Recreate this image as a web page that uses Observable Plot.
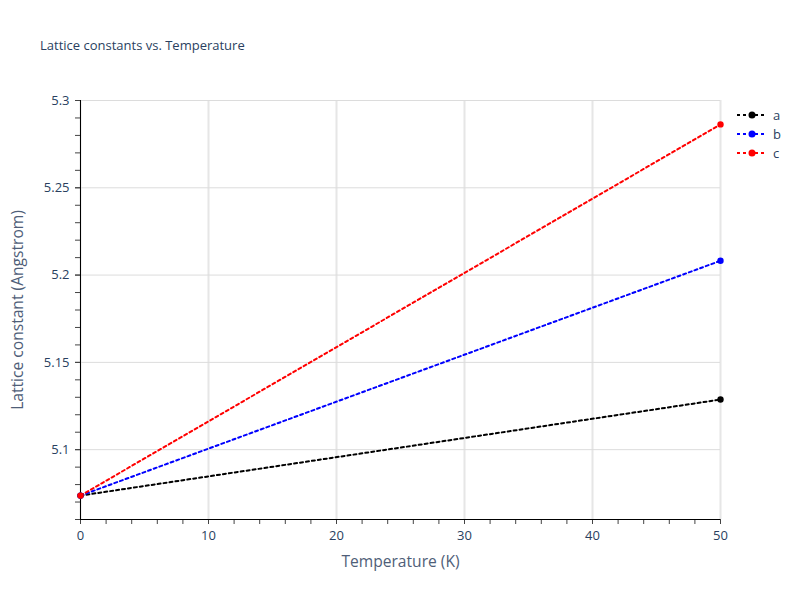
<!DOCTYPE html>
<html>
<head>
<meta charset="utf-8">
<script src="https://cdn.jsdelivr.net/npm/d3@7"></script>
<script src="https://cdn.jsdelivr.net/npm/@observablehq/plot@0.6"></script>
<style>
  html, body { margin: 0; padding: 0; background: #fff; }
  #wrap { position: relative; width: 800px; height: 600px; font-family: "Open Sans", sans-serif; color: #2a3f5f; }
  #title { position: absolute; left: 40px; top: 36px; font-size: 13px; color: #2a3f5f; white-space: nowrap; }
  #legend { position: absolute; left: 736px; top: 105px; font-size: 13px; color: #2a3f5f; }
  .item { height: 19px; display: flex; align-items: center; }
  .item span { margin-left: 5px; }
</style>
</head>
<body>
<div id="wrap">
  <div id="chart"></div>
  <div id="title"></div>
  <div id="legend"></div>
</div>
<script>
const titleText = "Lattice constants vs. Temperature";
const xLabel = "Temperature (K)";
const yLabel = "Lattice constant (Angstrom)";
const seriesNames = ["a", "b", "c"];
const seriesColors = ["black", "blue", "red"];
const temperatures = [0, 50];
const aValues = [5.0737, 5.1287];
const bValues = [5.0737, 5.2082];
const cValues = [5.0737, 5.2863];
const xTicks = [0, 10, 20, 30, 40, 50];
const xMinorTicks = [0,2,4,6,8,10,12,14,16,18,20,22,24,26,28,30,32,34,36,38,40,42,44,46,48,50];
const yTicks = [5.1, 5.15, 5.2, 5.25, 5.3];
const yMinorTicks = [5.06,5.07,5.08,5.09,5.1,5.11,5.12,5.13,5.14,5.15,5.16,5.17,5.18,5.19,5.2,5.21,5.22,5.23,5.24,5.25,5.26,5.27,5.28,5.29,5.3];
const yDomain = [5.06, 5.3];
const xDomain = [0, 50];

const allValues = [aValues, bValues, cValues];
const data = [];
seriesNames.forEach((s, i) => {
  temperatures.forEach((t, j) => data.push({series: s, T: t, v: allValues[i][j]}));
});

const txtColor = "#2a3f5f";
const titleColor = "#4f5e78";
const chart = Plot.plot({
  width: 800, height: 600,
  marginLeft: 80, marginRight: 80, marginTop: 100, marginBottom: 81,
  style: {fontFamily: "'Open Sans', sans-serif", fontSize: "13px", color: txtColor, background: "white"},
  x: {domain: xDomain, label: null},
  y: {domain: yDomain, label: null},
  color: {domain: seriesNames, range: seriesColors},
  marks: [
    Plot.gridX(xTicks, {stroke: "#e6e6e6", strokeOpacity: 1, strokeWidth: 2}),
    Plot.gridY(yTicks, {stroke: "#dcdcdc", strokeOpacity: 1, strokeWidth: 1}),
    Plot.axisX({ticks: xMinorTicks, tickSize: 5, stroke: "#444", text: null}),
    Plot.axisX({ticks: xTicks, tickSize: 5, stroke: "#444", tickPadding: 6, fontSize: 13, fill: txtColor,
      label: xLabel, labelAnchor: "center", labelArrow: "none", labelOffset: 47}),
    Plot.axisY({ticks: yMinorTicks, tickSize: 5, stroke: "#444", text: null}),
    Plot.axisY({ticks: yTicks, tickSize: 5, stroke: "#444", tickPadding: 6, fontSize: 13, fill: txtColor,
      tickFormat: d => String(d), label: yLabel, labelAnchor: "center", labelArrow: "none", labelOffset: 69}),
    Plot.ruleX([xDomain[0]], {stroke: "black", strokeWidth: 1}),
    Plot.ruleY([yDomain[0]], {stroke: "black", strokeWidth: 1}),
    Plot.line(data, {x: "T", y: "v", z: "series", stroke: "series", strokeWidth: 2, strokeDasharray: "3,3"}),
    Plot.dot(data, {x: "T", y: "v", fill: "series", r: 3.2, stroke: null})
  ]
});
chart.querySelectorAll("g[aria-label='x-axis label'] text, g[aria-label='y-axis label'] text").forEach(t => {
  t.setAttribute("font-size", "15.6px"); t.style.fontSize = "15.6px";
  t.setAttribute("fill", titleColor); t.style.fill = titleColor;
});
document.getElementById("chart").appendChild(chart);
document.getElementById("title").textContent = titleText;

const legend = document.getElementById("legend");
seriesNames.forEach((s, i) => {
  const div = document.createElement("div");
  div.className = "item";
  div.innerHTML = `<svg width="32" height="10"><line x1="1" y1="5" x2="31" y2="5" stroke="${seriesColors[i]}" stroke-width="2" stroke-dasharray="3,3"/><circle cx="16" cy="5" r="3.5" fill="${seriesColors[i]}"/></svg><span></span>`;
  div.querySelector("span").textContent = s;
  legend.appendChild(div);
});
</script>
</body>
</html>
